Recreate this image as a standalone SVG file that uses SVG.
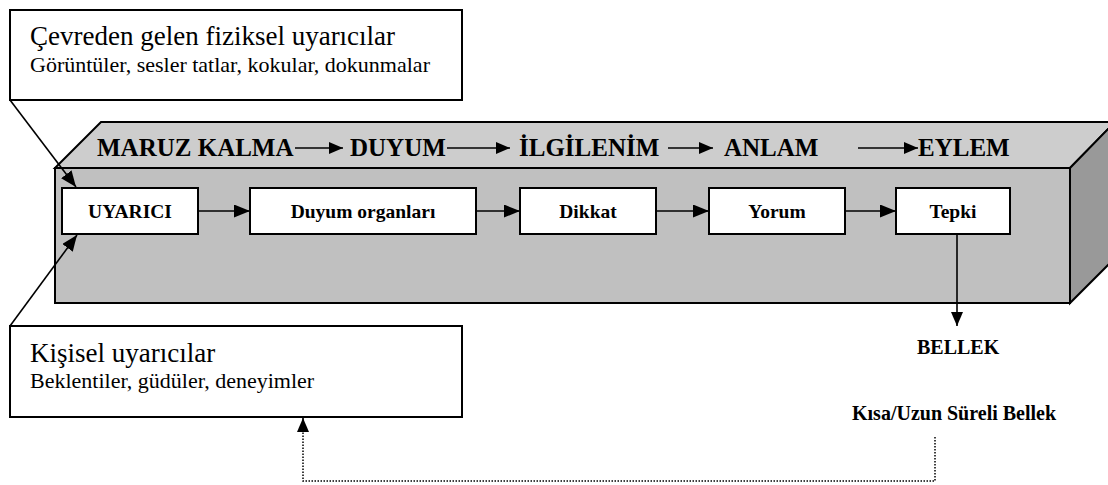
<svg xmlns="http://www.w3.org/2000/svg" width="1108" height="485" viewBox="0 0 1108 485">
  <style>
    text { font-family: 'Liberation Serif', Tinos, 'Times New Roman', 'DejaVu Serif', serif; fill: #000; }
    .box { fill: #ffffff; stroke: #000000; stroke-width: 2; }
    .big { font-size: 27px; }
    .sub { font-size: 22px; }
    .stage { font-size: 25px; font-weight: bold; }
    .lbl { font-size: 19.5px; font-weight: bold; text-anchor: middle; }
    .mem { font-size: 20px; font-weight: bold; }
    .link { stroke: #000; stroke-width: 1.6; fill: none; }
    .dot { stroke: #000; stroke-width: 1.5; fill: none; stroke-dasharray: 1.5 1.5; }
  </style>
  <defs>
    <marker id="arr" viewBox="0 0 16 13" refX="16" refY="6.5" markerWidth="16" markerHeight="13" markerUnits="userSpaceOnUse" orient="auto">
      <path d="M0,0 L16,6.5 L0,13 Z" fill="#000"/>
    </marker>
    <marker id="arrS" viewBox="0 0 14 12" refX="14" refY="6" markerWidth="14" markerHeight="12" markerUnits="userSpaceOnUse" orient="auto">
      <path d="M0,0 L14,6 L0,12 Z" fill="#000"/>
    </marker>
  </defs>

  <!-- perception block drawn as a 3D slab -->
  <g id="slab">
    <polygon points="55,168 101,122 1115,122 1070,168" fill="#cdcdcd" stroke="#000" stroke-width="2"/>
    <polygon points="1070,168 1115,122 1115,258 1070,303" fill="#999999" stroke="#000" stroke-width="2"/>
    <rect x="55" y="168" width="1015" height="135" fill="#c0c0c0" stroke="#000" stroke-width="2"/>
  </g>

  <!-- stage headings along the top face -->
  <g id="stages">
    <text class="stage" x="97" y="156">MARUZ KALMA</text>
    <text class="stage" x="350" y="156">DUYUM</text>
    <text class="stage" x="519" y="156">İLGİLENİM</text>
    <text class="stage" x="724" y="156">ANLAM</text>
    <text class="stage" x="918" y="156">EYLEM</text>
  </g>

  <g id="env-stimuli">
    <rect class="box" x="10" y="10" width="452" height="90"/>
    <text class="big" x="30" y="45">Çevreden gelen fiziksel uyarıcılar</text>
    <text class="sub" x="30" y="72">Görüntüler, sesler tatlar, kokular, dokunmalar</text>
  </g>

  <g id="personal-stimuli">
    <rect class="box" x="10" y="326" width="452" height="91"/>
    <text class="big" x="30" y="362">Kişisel uyarıcılar</text>
    <text class="sub" x="30" y="388">Beklentiler, güdüler, deneyimler</text>
  </g>

  <g id="uyarici">
    <rect class="box" x="62" y="188" width="136" height="46"/>
    <text class="lbl" x="130" y="218">UYARICI</text>
  </g>
  <g id="duyum-organlari">
    <rect class="box" x="250" y="188" width="226" height="46"/>
    <text class="lbl" x="363" y="218">Duyum organları</text>
  </g>
  <g id="dikkat">
    <rect class="box" x="520" y="188" width="136" height="46"/>
    <text class="lbl" x="588" y="218">Dikkat</text>
  </g>
  <g id="yorum">
    <rect class="box" x="709" y="188" width="136" height="46"/>
    <text class="lbl" x="777" y="218">Yorum</text>
  </g>
  <g id="tepki">
    <rect class="box" x="896" y="188" width="114" height="46"/>
    <text class="lbl" x="953" y="218">Tepki</text>
  </g>

  <g id="bellek">
    <text class="mem" x="917" y="354">BELLEK</text>
  </g>
  <g id="kisa-uzun">
    <text class="mem" x="852" y="420">Kısa/Uzun</text>
    <text class="mem" x="947" y="420">Süreli Bellek</text>
  </g>

  <g id="connectors">
    <!-- stage arrows -->
    <line class="link" x1="295" y1="148" x2="343" y2="148" marker-end="url(#arrS)"/>
    <line class="link" x1="447" y1="148" x2="510" y2="148" marker-end="url(#arrS)"/>
    <line class="link" x1="668" y1="148" x2="713" y2="148" marker-end="url(#arrS)"/>
    <line class="link" x1="858" y1="148" x2="918" y2="148" marker-end="url(#arrS)"/>
    <!-- process chain -->
    <line class="link" x1="198" y1="211" x2="250" y2="211" marker-end="url(#arr)"/>
    <line class="link" x1="476" y1="211" x2="520" y2="211" marker-end="url(#arr)"/>
    <line class="link" x1="656" y1="211" x2="709" y2="211" marker-end="url(#arr)"/>
    <line class="link" x1="845" y1="211" x2="896" y2="211" marker-end="url(#arr)"/>
    <!-- inputs -->
    <line class="link" x1="10" y1="100" x2="76" y2="187" marker-end="url(#arr)"/>
    <line class="link" x1="10" y1="326" x2="77" y2="235" marker-end="url(#arr)"/>
    <!-- response to memory -->
    <line class="link" x1="957" y1="234" x2="957" y2="326" marker-end="url(#arrS)"/>
    <!-- memory feedback -->
    <polyline class="dot" points="935,437 935,481 303,481 303,430"/>
    <line class="link" x1="303" y1="431" x2="303" y2="418" marker-end="url(#arrS)"/>
  </g>
</svg>
